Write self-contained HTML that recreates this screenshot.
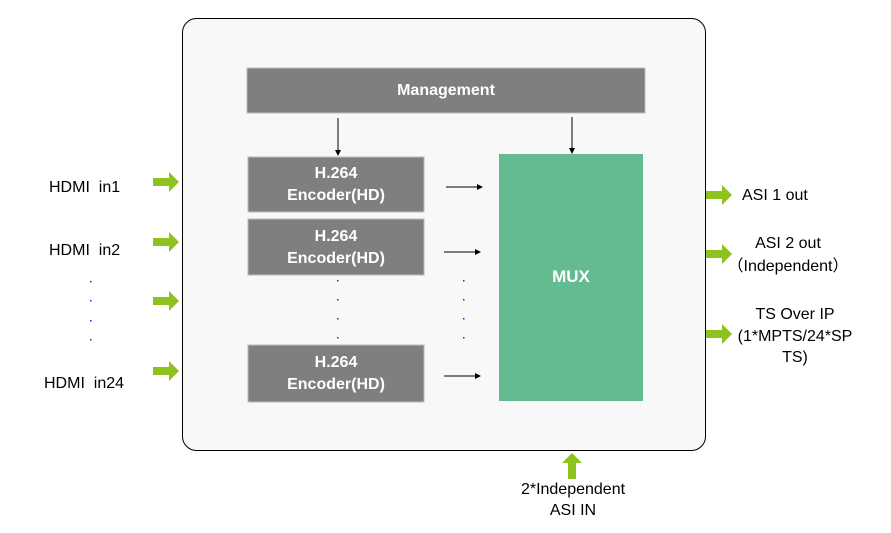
<!DOCTYPE html>
<html><head><meta charset="utf-8"><style>
html,body{margin:0;padding:0;background:#fff;}
svg{display:block;font-family:"Liberation Sans",Arial,sans-serif;}
text{white-space:pre;}
</style></head><body>
<svg width="891" height="533" viewBox="0 0 891 533" xmlns="http://www.w3.org/2000/svg">
<defs>
<marker id="ah" markerWidth="6" markerHeight="6" refX="5" refY="3" orient="auto" markerUnits="userSpaceOnUse"><path d="M0,0 L6,3 L0,6 z" fill="#000"/></marker>
<g id="ga"><rect x="0" y="-4" width="17" height="8" fill="#8dc21f"/><path d="M16,-10 L26,0 L16,10 z" fill="#8dc21f"/></g>
</defs>
<rect x="182.5" y="18.5" width="523" height="432" rx="14" fill="#f8f8f8" stroke="#000" stroke-width="1"/>
<rect x="247" y="68" width="398" height="45" fill="#7f7f7f" stroke="#bbb" stroke-width="1"/>
<text x="446" y="95" fill="#fff" font-size="16" font-weight="bold" text-anchor="middle">Management</text>
<g fill="#7f7f7f" stroke="#bbb" stroke-width="1">
<rect x="248" y="157" width="176" height="55"/>
<rect x="248" y="219" width="176" height="56"/>
<rect x="248" y="345" width="176" height="57"/>
</g>
<g fill="#fff" font-size="16" font-weight="bold" text-anchor="middle">
<text x="336" y="178">H.264</text><text x="336" y="200">Encoder(HD)</text>
<text x="336" y="241">H.264</text><text x="336" y="263">Encoder(HD)</text>
<text x="336" y="367">H.264</text><text x="336" y="389">Encoder(HD)</text>
</g>
<rect x="499" y="154" width="144" height="247" fill="#64bb8f"/>
<text x="571" y="282" fill="#fff" font-size="17" font-weight="bold" text-anchor="middle">MUX</text>
<g stroke="#000" stroke-width="1" marker-end="url(#ah)">
<line x1="338" y1="118" x2="338" y2="155"/>
<line x1="572" y1="117" x2="572" y2="153"/>
<line x1="446" y1="187" x2="482" y2="187"/>
<line x1="444" y1="252" x2="480" y2="252"/>
<line x1="444" y1="376" x2="480" y2="376"/>
</g>
<g fill="#2222ee">
<rect x="90" y="281" width="1.5" height="1.5"/><rect x="90" y="300" width="1.5" height="1.5"/><rect x="90" y="320" width="1.5" height="1.5"/><rect x="90" y="339" width="1.5" height="1.5"/>
<rect x="337" y="280" width="1.5" height="1.5"/><rect x="337" y="299" width="1.5" height="1.5"/><rect x="337" y="318" width="1.5" height="1.5"/><rect x="337" y="337" width="1.5" height="1.5"/>
<rect x="463" y="280" width="1.5" height="1.5"/><rect x="463" y="299" width="1.5" height="1.5"/><rect x="463" y="318" width="1.5" height="1.5"/><rect x="463" y="337" width="1.5" height="1.5"/>
</g>
<use href="#ga" x="153" y="182"/>
<use href="#ga" x="153" y="242"/>
<use href="#ga" x="153" y="301"/>
<use href="#ga" x="153" y="371"/>
<use href="#ga" x="706" y="195"/>
<use href="#ga" x="706" y="254"/>
<use href="#ga" x="706" y="334"/>
<use href="#ga" transform="translate(572,479) rotate(-90)"/>
<g fill="#000" font-size="16">
<text x="49" y="192">HDMI  in1</text>
<text x="49" y="255">HDMI  in2</text>
<text x="44" y="388">HDMI  in24</text>
<text x="742" y="200">ASI 1 out</text>
<text x="788" y="248" text-anchor="middle">ASI 2 out</text>
<text x="788" y="271" text-anchor="middle">（Independent）</text>
<text x="795" y="319" text-anchor="middle">TS Over IP</text>
<text x="795" y="341" text-anchor="middle">(1*MPTS/24*SP</text>
<text x="795" y="362" text-anchor="middle">TS)</text>
<text x="573" y="494" text-anchor="middle">2*Independent</text>
<text x="573" y="515" text-anchor="middle">ASI IN</text>
</g>
</svg>
</body></html>
